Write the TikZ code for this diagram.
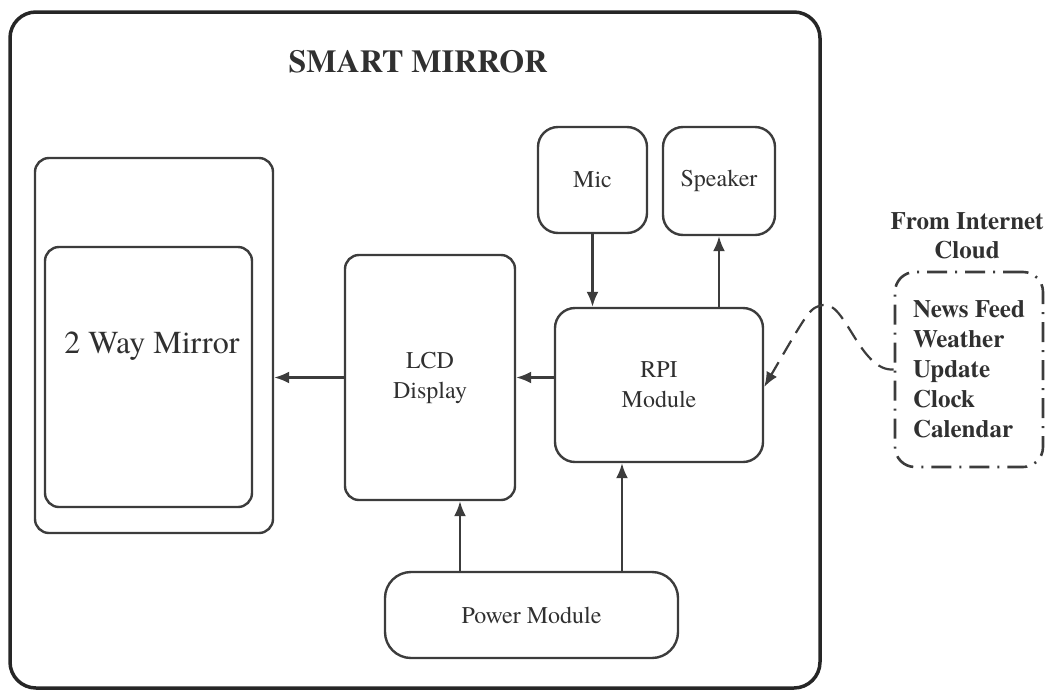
\documentclass[tikz,border=0pt]{standalone}
\usepackage{fontspec}
\setmainfont{TeX Gyre Termes}
\usetikzlibrary{arrows.meta,positioning}
\definecolor{linegray}{HTML}{3C3C3C}
\definecolor{textgray}{HTML}{303030}
\tikzset{
  blk/.style={draw=linegray, line width=2.4pt, rounded corners=14pt, fill=white,
    text=textgray, align=center, inner sep=0pt,
    font=\fontsize{24}{30}\selectfont},
  link/.style={draw=linegray, line width=2.2pt, -{Latex[length=15pt,width=12pt]}},
  cloudlink/.style={link, dash pattern=on 16pt off 9pt},
  boldtxt/.style={text=textgray, align=center, font=\bfseries\fontsize{25}{29}\selectfont},
}
\begin{document}
\begin{tikzpicture}[x=1pt,y=-1pt]
  \useasboundingbox (0,0) rectangle (1047,689);
  % frame of the mirror
  \draw[black!85, line width=3.5pt, rounded corners=26pt] (10,12) rectangle (820,688);
  \node[boldtxt, font=\bfseries\fontsize{32}{36}\selectfont] (title) at (418,62) {SMART MIRROR};

  % blocks
  \node[blk, minimum width=238pt, minimum height=375pt] (mirrorcase) at (154,345.5) {};
  \node[blk, minimum width=207pt, minimum height=260pt] (mirror) at (148.5,377) {};
  \node[text=textgray, font=\fontsize{32}{36}\selectfont] (mirrortxt) at (152,346) {2 Way Mirror};
  \node[blk, minimum width=170pt, minimum height=245pt] (lcd) at (430,377.5) {LCD\\Display};
  \node[blk, minimum width=208pt, minimum height=154pt, rounded corners=20pt] (rpi) at (659,385) {RPI\\Module};
  \node[blk, minimum width=109pt, minimum height=106pt, rounded corners=20pt] (mic) at (592.5,180) {Mic};
  \node[blk, minimum width=112pt, minimum height=108pt, rounded corners=20pt] (speaker) at (719,181) {Speaker};
  \node[blk, minimum width=293pt, minimum height=86pt, rounded corners=26pt] (power) at (531.5,615) {Power Module};

  % internet side
  \node[boldtxt] (fromnet) at (967,236) {From Internet\\Cloud};
  \node[draw=linegray, line width=2.6pt, rounded corners=20pt,
    dash pattern=on 20pt off 8pt on 2pt off 8pt,
    minimum width=148pt, minimum height=195pt, inner sep=0pt,
    text=textgray, align=left, font=\bfseries\fontsize{25}{30}\selectfont]
    (cloud) at (969,369.5) {News Feed\\Weather\\Update\\Clock\\Calendar};

  % connections
  \draw[link] (lcd.west) -- (lcd.west -| mirrorcase.east);
  \draw[link] (lcd.east -| rpi.west) -- (lcd.east);
  \draw[link] (mic.south) -- (mic.south |- rpi.north);
  \draw[link] (speaker.south |- rpi.north) -- (speaker.south);
  \draw[link] ([xshift=-71.5pt]power.north) -- ([xshift=-71.5pt]power.north |- lcd.south);
  \draw[link] ([xshift=90.5pt]power.north) -- ([xshift=90.5pt]power.north |- rpi.south);
  \draw[cloudlink] (cloud.west) .. controls (860,372) and (845,300) .. (823,305)
    .. controls (810,308) .. ([yshift=-2pt]rpi.east);
\end{tikzpicture}
\end{document}
